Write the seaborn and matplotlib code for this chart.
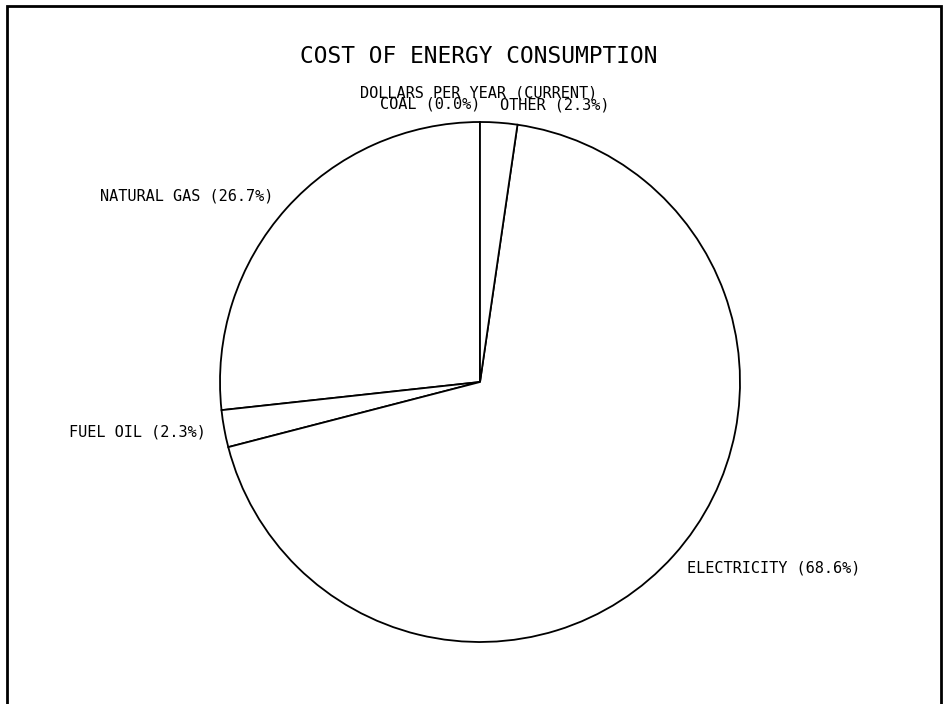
import matplotlib
matplotlib.use("Agg")
import matplotlib.pyplot as plt
from matplotlib.patches import Rectangle
import seaborn as sns
import numpy as np

# ---- data ----
categories = ["COAL", "NATURAL GAS", "FUEL OIL", "ELECTRICITY", "OTHER"]
percent = [0.0, 26.7, 2.3, 68.6, 2.3]
title = "COST OF ENERGY CONSUMPTION"
subtitle = "DOLLARS PER YEAR (CURRENT)"

sns.set_theme(style="white")
plt.rcParams['font.family'] = ['DejaVu Sans Mono', 'DejaVu Sans']

W, H = 949, 704
fig = plt.figure(figsize=(W / 100, H / 100), dpi=100)
fig.patch.set_facecolor("white")

cx, cy, r = 480, 382, 260
ax = fig.add_axes([(cx - r) / W, (H - cy - r) / H, 2 * r / W, 2 * r / H])
wedges, _ = ax.pie(percent, startangle=90, counterclock=True,
                   colors=["white"] * len(percent),
                   wedgeprops=dict(edgecolor="black", linewidth=1.3),
                   radius=1)
for w in wedges:
    w.set_clip_on(False)
ax.set_xlim(-1, 1)
ax.set_ylim(-1, 1)
ax.set_aspect("auto")
ax.axis("off")

for w, cat, p in zip(wedges, categories, percent):
    ang = np.deg2rad((w.theta1 + w.theta2) / 2)
    x, y = 1.07 * np.cos(ang), 1.07 * np.sin(ang)
    ha = "left" if x > 1e-6 else "right"
    ax.text(x, y, f"{cat} ({p:.1f}%)",
            ha=ha, va="center", fontsize=11, color="black", clip_on=False)

fig.text(479 / W, 1 - 56.5 / H, title, ha="center", va="center",
         fontsize=16.5, color="black")
fig.text(479 / W, 1 - 93 / H, subtitle, ha="center", va="center",
         fontsize=11, color="black")

fig.patches.append(Rectangle((7 / W, -0.05), (941 - 7) / W, 1.05 - 6 / H,
                             transform=fig.transFigure, fill=False,
                             edgecolor="black", linewidth=2))

fig.savefig("out.png", dpi=100)
